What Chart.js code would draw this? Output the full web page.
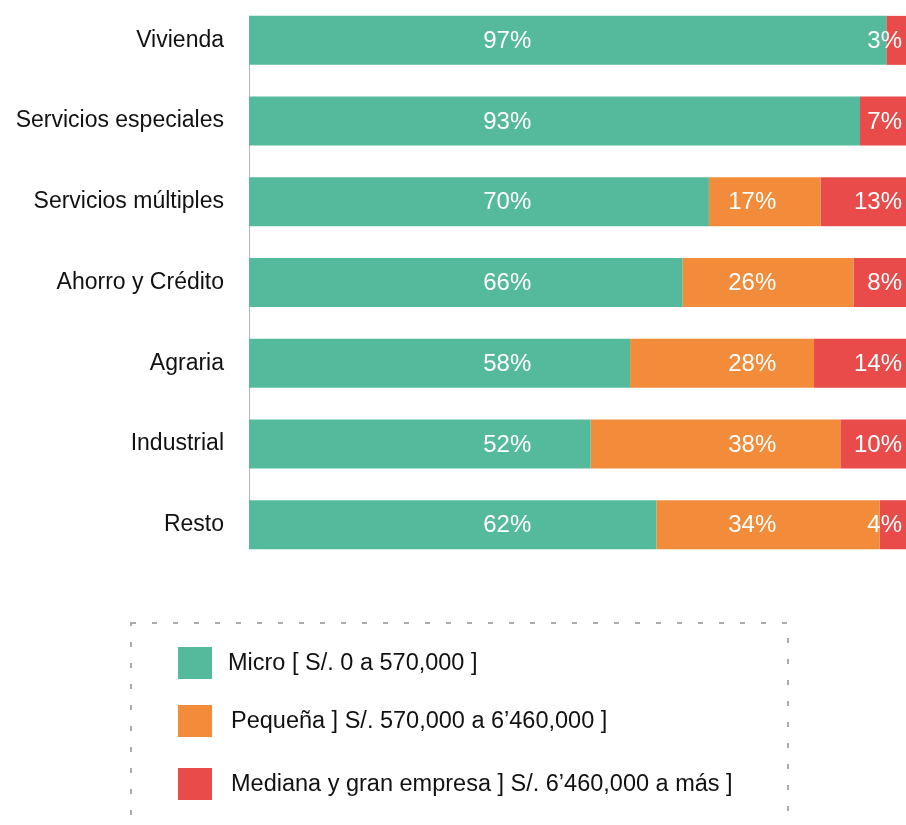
<!DOCTYPE html>
<html>
<head>
<meta charset="utf-8">
<script src="https://cdn.jsdelivr.net/npm/chart.js@4/dist/chart.umd.min.js"></script>
<style>
  html, body { margin: 0; padding: 0; background: #fff; }
  #wrap { width: 906px; height: 825px; }
</style>
</head>
<body>
<div id="wrap"><canvas id="c" width="906" height="825"></canvas></div>
<script>
const categories = ['Vivienda', 'Servicios especiales', 'Servicios múltiples', 'Ahorro y Crédito', 'Agraria', 'Industrial', 'Resto'];
const micro   = [97, 93, 70, 66, 58, 52, 62];
const pequena = [0, 0, 17, 26, 28, 38, 34];
const mediana = [3, 7, 13, 8, 14, 10, 4];
const seriesNames = [
  'Micro [ S/. 0 a 570,000 ]',
  'Pequeña ] S/. 570,000 a 6’460,000 ]',
  'Mediana y gran empresa ] S/. 6’460,000 a más ]'
];
const seriesColors = ['#55BA9B', '#F28C3A', '#E94B4A'];

const FONT = '"Liberation Sans", Arial, Helvetica, sans-serif';

const axisLinePlugin = {
  id: 'axisLine',
  beforeDatasetsDraw(chart) {
    const { ctx, chartArea } = chart;
    const meta = chart.getDatasetMeta(0);
    const first = meta.data[0];
    const last = meta.data[meta.data.length - 1];
    const top = first.y - first.height / 2;
    const bottom = last.y + last.height / 2;
    ctx.save();
    ctx.strokeStyle = '#b5b5b5';
    ctx.lineWidth = 1;
    ctx.beginPath();
    ctx.moveTo(chartArea.left + 0.5, top);
    ctx.lineTo(chartArea.left + 0.5, bottom);
    ctx.stroke();
    ctx.restore();
  }
};

const valueLabelPlugin = {
  id: 'valueLabels',
  afterDatasetsDraw(chart, args, opts) {
    const { ctx } = chart;
    const xs = chart.scales.x;
    ctx.save();
    ctx.fillStyle = '#ffffff';
    ctx.font = '24px ' + FONT;
    ctx.textBaseline = 'middle';
    chart.data.datasets.forEach((ds, di) => {
      const meta = chart.getDatasetMeta(di);
      const anchor = opts.anchors[di];
      ctx.textAlign = anchor.align;
      const x = xs.getPixelForValue(anchor.value);
      ds.data.forEach((v, i) => {
        if (!v) return;
        const el = meta.data[i];
        ctx.fillText(v + '%', x, el.y + 1);
      });
    });
    ctx.restore();
  }
};

const boxLegendPlugin = {
  id: 'boxLegend',
  afterDraw(chart, args, opts) {
    const { ctx } = chart;
    ctx.save();
    ctx.strokeStyle = '#ababab';
    ctx.lineWidth = 2;
    ctx.setLineDash([5, 16]);
    ctx.strokeRect(opts.box.left, opts.box.top, opts.box.right - opts.box.left, opts.box.bottom - opts.box.top);
    ctx.setLineDash([]);
    ctx.font = '23.5px ' + FONT;
    ctx.textAlign = 'left';
    ctx.textBaseline = 'middle';
    chart.data.datasets.forEach((ds, i) => {
      const y = opts.rows[i];
      ctx.fillStyle = ds.backgroundColor;
      ctx.fillRect(opts.swatchX, y, opts.swatchW, opts.swatchH);
      ctx.fillStyle = '#111111';
      ctx.fillText(ds.label, opts.textX[i], y + opts.swatchH / 2 + 1);
    });
    ctx.restore();
  }
};

new Chart(document.getElementById('c'), {
  type: 'bar',
  data: {
    labels: categories,
    datasets: [
      { label: seriesNames[0], data: micro, backgroundColor: seriesColors[0] },
      { label: seriesNames[1], data: pequena, backgroundColor: seriesColors[1] },
      { label: seriesNames[2], data: mediana, backgroundColor: seriesColors[2] }
    ]
  },
  options: {
    indexAxis: 'y',
    responsive: false,
    devicePixelRatio: 1,
    animation: false,
    layout: { autoPadding: false, padding: { top: 0, left: 0, right: 0, bottom: 260 } },
    datasets: { bar: { barPercentage: 0.607, categoryPercentage: 1, borderWidth: 0 } },
    scales: {
      x: { stacked: true, min: 0, max: 100, display: false },
      y: {
        stacked: true,
        grid: { display: false, drawTicks: false },
        border: { display: false },
        ticks: { padding: 25, color: '#111111', font: { family: FONT, size: 23 } },
        afterFit(scale) { scale.width = 249; scale.paddingTop = 0; scale.paddingBottom = 0; }
      }
    },
    plugins: {
      legend: { display: false },
      tooltip: { enabled: false },
      valueLabels: {
        anchors: [
          { value: 39.3, align: 'center' },
          { value: 76.6, align: 'center' },
          { value: 99.4, align: 'right' }
        ]
      },
      boxLegend: {
        box: { left: 131, top: 623, right: 788, bottom: 860 },
        rows: [647, 705, 768],
        swatchX: 178, swatchW: 34, swatchH: 32,
        textX: [228, 231, 231]
      }
    }
  },
  plugins: [axisLinePlugin, valueLabelPlugin, boxLegendPlugin]
});
</script>
</body>
</html>
